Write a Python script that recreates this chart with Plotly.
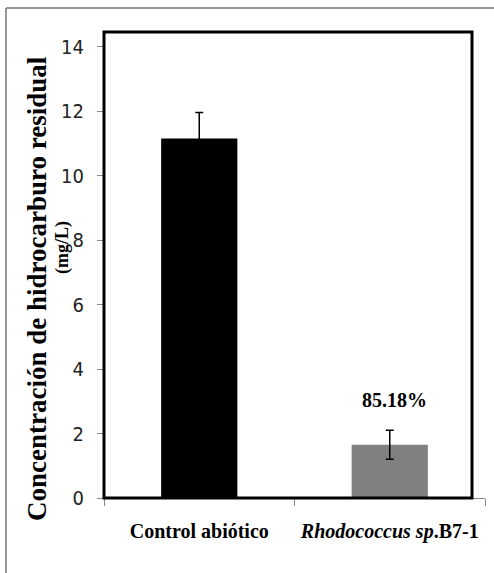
import plotly.graph_objects as go

# Data
categories = ["Control abiótico", "Rhodococcus sp.B7-1"]
tick_labels = ["<b>Control abiótico</b>", "<b><i>Rhodococcus sp</i>.B7-1</b>"]
concentration = [11.15, 1.65]
std_error = [0.80, 0.45]
bar_colors = ["#000000", "#808080"]
removal_label = "85.18%"
removal_label_y = 3.03
y_ticks = [0, 2, 4, 6, 8, 10, 12, 14]

W, H = 494, 573
L, R, T, B = 104, 9, 32, 75
pw, ph = W - L - R, H - T - B

def px_x(x):
    return (x - L) / pw

def px_y(y):
    return (H - B - y) / ph

fig = go.Figure()
fig.add_trace(go.Bar(
    x=categories,
    y=concentration,
    width=0.4,
    marker=dict(color=bar_colors, line=dict(width=0)),
    error_y=dict(type="data", array=std_error, visible=True,
                 color="#000000", thickness=1.5, width=4),
))

# Percentage removal above the inoculated treatment
fig.add_annotation(x=categories[1], y=removal_label_y, text=f"<b>{removal_label}</b>",
                   showarrow=False, xshift=5,
                   font=dict(family="Liberation Serif", size=20, color="#000000"))

# Y-axis title (two separately placed lines)
fig.add_annotation(xref="paper", yref="paper", x=px_x(37), y=px_y(289),
                   text="<b>Concentración de hidrocarburo residual</b>", textangle=-90,
                   showarrow=False, xanchor="center", yanchor="middle",
                   font=dict(family="Liberation Serif", size=27, color="#000000"))
fig.add_annotation(xref="paper", yref="paper", x=px_x(62), y=px_y(248),
                   text="<b>(mg/L)</b>", textangle=-90,
                   showarrow=False, xanchor="center", yanchor="middle",
                   font=dict(family="Liberation Serif", size=18, color="#000000"))

# Thick black plot frame
fig.add_shape(type="rect", xref="paper", yref="paper",
              x0=0, x1=px_x(472), y0=0, y1=1,
              line=dict(color="#000000", width=3), layer="above")

# Outer figure border (top and left edges)
fig.add_shape(type="line", xref="paper", yref="paper",
              x0=px_x(6), x1=px_x(W + 2), y0=px_y(8), y1=px_y(8),
              line=dict(color="#777777", width=1.5))
fig.add_shape(type="line", xref="paper", yref="paper",
              x0=px_x(6), x1=px_x(6), y0=px_y(8), y1=px_y(H + 2),
              line=dict(color="#777777", width=1.5))

fig.update_layout(
    width=W, height=H,
    margin=dict(l=L, r=R, t=T, b=B, pad=0),
    paper_bgcolor="#ffffff", plot_bgcolor="#ffffff",
    showlegend=False, bargap=0.6,
)
fig.update_xaxes(
    range=[-0.5, 1.5], tickmode="array", tickvals=categories, ticktext=tick_labels,
    tickson="boundaries", ticks="outside", ticklen=7, tickcolor="#888888", tickwidth=1,
    showline=True, linecolor="#888888", linewidth=1, showgrid=False, zeroline=False,
    ticklabelstandoff=15,
    tickfont=dict(family="Liberation Serif", size=20, color="#000000"),
)
fig.update_yaxes(
    range=[0, 14.45], tickvals=y_ticks, ticks="outside", ticklen=6,
    tickcolor="#888888", tickwidth=1, showline=False, showgrid=False, zeroline=False,
    ticklabelstandoff=9,
    tickfont=dict(family="Liberation Sans Narrow, DejaVu Sans Condensed, Liberation Sans",
                  size=20, color="#222222"),
)

fig.write_html("out.html")
